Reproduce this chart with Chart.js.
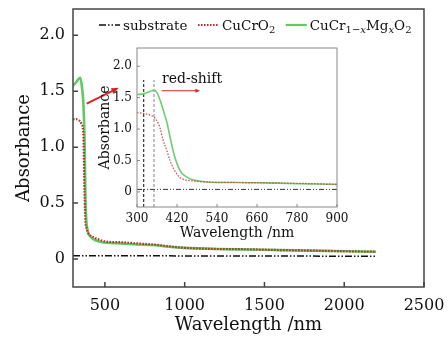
<!DOCTYPE html>
<html>
<head>
<meta charset="utf-8">
<script src="https://cdn.jsdelivr.net/npm/chart.js@4.4.1/dist/chart.umd.min.js"></script>
<style>
    html, body { margin: 0; padding: 0; background: #fff; overflow: hidden; }
    #wrap { position: relative; width: 448px; height: 340px; overflow: hidden; }
    #mainChart { position: absolute; left: 0; top: 0; }
    #insetChart { position: absolute; left: 90px; top: 40px; }
</style>
</head>
<body>
<div id="wrap">
    <canvas id="mainChart" width="448" height="340"></canvas>
    <canvas id="insetChart" width="260" height="205"></canvas>
</div>
<script>
// ---- main panel data ----
const mainWl = [300, 320, 335, 345, 355, 365, 372, 378, 384, 390, 396, 410, 437, 470, 510, 600, 700, 800, 900, 1000, 1200, 1400, 1600, 1800, 2000, 2200];
const mainMg = [1.55, 1.58, 1.61, 1.62, 1.55, 1.39, 1.10, 0.55, 0.33, 0.27, 0.23, 0.20, 0.17, 0.155, 0.145, 0.14, 0.13, 0.125, 0.11, 0.10, 0.09, 0.085, 0.08, 0.075, 0.07, 0.065];
const mainCuCrO2 = [1.25, 1.25, 1.24, 1.23, 1.20, 1.12, 0.60, 0.33, 0.28, 0.25, 0.23, 0.21, 0.19, 0.17, 0.155, 0.15, 0.14, 0.13, 0.115, 0.10, 0.09, 0.087, 0.08, 0.075, 0.07, 0.065];
const subWl = [300, 1000, 2200];
const mainSubstrate = [0.03, 0.028, 0.025];

const mainXTicks = [500, 1000, 1500, 2000, 2500];
const mainXLabels = ['500', '1000', '1500', '2000', '2500'];
const mainYTicks = [0, 0.5, 1.0, 1.5, 2.0];
const mainYLabels = ['0', '0.5', '1.0', '1.5', '2.0'];

// ---- inset data (300-900 nm) ----
const insetWlMg = [300, 320, 340, 351, 360, 370, 380, 390, 400, 410, 420, 430, 440, 455, 470, 490, 520, 560, 600, 660, 720, 780, 840, 900];
const insetMg = [1.55, 1.56, 1.60, 1.62, 1.58, 1.45, 1.28, 1.10, 0.85, 0.62, 0.45, 0.33, 0.27, 0.22, 0.19, 0.17, 0.155, 0.15, 0.15, 0.145, 0.14, 0.13, 0.125, 0.12];
const insetWlCr = [300, 320, 340, 351, 363, 370, 378, 390, 399, 410, 420, 429, 440, 460, 489, 520, 600, 700, 800, 900];
const insetCuCrO2 = [1.26, 1.25, 1.22, 1.19, 1.10, 1.00, 0.83, 0.65, 0.50, 0.37, 0.28, 0.23, 0.20, 0.18, 0.165, 0.155, 0.15, 0.145, 0.135, 0.12];
const insetSubWl = [300, 900];
const insetSubstrate = [0.04, 0.04];

const insetXTicks = [300, 420, 540, 660, 780, 900];
const insetXLabels = ['300', '420', '540', '660', '780', '900'];
const insetYTicks = [0, 0.5, 1.0, 1.5, 2.0];
const insetYLabels = ['0', '0.5', '1.0', '1.5', '2.0'];

// band-edge markers in the inset
const edgeLines = [320, 351];

const seriesNames = ['substrate', 'CuCrO2', 'CuCr1-xMgxO2'];
const legendParts = [
    [['substrate']],
    [['CuCrO'], ['2', 'sub']],
    [['CuCr'], ['1\u2212', 'sub'], ['x', 'subi'], ['Mg'], ['x', 'subi'], ['O'], ['2', 'sub']]
];

const SERIF = "'DejaVu Serif', serif";
const GREEN = '#62c862';
const RED = '#b82a2a';
const ARROW = '#d42626';

function pts(xs, ys) {
    return xs.map((x, i) => ({ x: x, y: ys[i] }));
}

// box round the plot and short inward tick marks
function framePlugin(color, width, tick) {
    return {
        id: 'frame',
        afterDatasetsDraw(chart) {
            const { ctx, chartArea: a, scales: { x, y } } = chart;
            ctx.save();
            ctx.strokeStyle = color;
            ctx.lineWidth = width;
            ctx.strokeRect(a.left, a.top, a.right - a.left, a.bottom - a.top);
            ctx.beginPath();
            x.ticks.forEach(t => {
                const px = x.getPixelForValue(t.value);
                ctx.moveTo(px, a.bottom);
                ctx.lineTo(px, a.bottom - tick);
            });
            y.ticks.forEach(t => {
                const py = y.getPixelForValue(t.value);
                ctx.moveTo(a.left, py);
                ctx.lineTo(a.left + tick, py);
            });
            ctx.stroke();
            ctx.restore();
        }
    };
}

function drawArrow(ctx, x0, y0, x1, y1, head, color, width) {
    const ang = Math.atan2(y1 - y0, x1 - x0);
    ctx.save();
    ctx.strokeStyle = color;
    ctx.fillStyle = color;
    ctx.lineWidth = width;
    ctx.beginPath();
    ctx.moveTo(x0, y0);
    ctx.lineTo(x1 - Math.cos(ang) * head * 0.8, y1 - Math.sin(ang) * head * 0.8);
    ctx.stroke();
    ctx.beginPath();
    ctx.moveTo(x1, y1);
    ctx.lineTo(x1 - head * Math.cos(ang - 0.4), y1 - head * Math.sin(ang - 0.4));
    ctx.lineTo(x1 - head * Math.cos(ang + 0.4), y1 - head * Math.sin(ang + 0.4));
    ctx.closePath();
    ctx.fill();
    ctx.restore();
}

// legend drawn inside the main plot, with real subscripts
const legendPlugin = {
    id: 'richLegend',
    afterDraw(chart) {
        const { ctx, chartArea: a } = chart;
        const sets = chart.data.datasets;
        let x = a.left + 26;
        const y = a.top + 16;
        ctx.save();
        ctx.textBaseline = 'alphabetic';
        ctx.fillStyle = '#111';
        legendParts.forEach((parts, i) => {
            const ds = sets[i];
            ctx.save();
            ctx.strokeStyle = ds.borderColor;
            ctx.lineWidth = Math.min(ds.borderWidth, 2.2);
            ctx.setLineDash(ds.borderDash || []);
            ctx.beginPath();
            ctx.moveTo(x, y);
            ctx.lineTo(x + 21, y);
            ctx.stroke();
            ctx.restore();
            x += 24;
            parts.forEach(([txt, kind]) => {
                if (kind === 'sub' || kind === 'subi') {
                    ctx.font = (kind === 'subi' ? 'italic ' : '') + '10px ' + SERIF;
                    ctx.fillText(txt, x, y + 8);
                } else {
                    ctx.font = '13.5px ' + SERIF;
                    ctx.fillText(txt, x, y + 5);
                }
                x += ctx.measureText(txt).width;
            });
            x += 10.5;
        });
        ctx.restore();
    }
};

const mainArrow = { from: [386, 1.39], to: [587, 1.53] };

const mainNotes = {
    id: 'mainNotes',
    afterDatasetsDraw(chart) {
        const { ctx, scales: { x, y } } = chart;
        drawArrow(ctx,
            x.getPixelForValue(mainArrow.from[0]), y.getPixelForValue(mainArrow.from[1]),
            x.getPixelForValue(mainArrow.to[0]), y.getPixelForValue(mainArrow.to[1]),
            8, ARROW, 2);
    }
};

const shiftArrow = { from: [374, 1.61], to: [489, 1.61] };
const shiftText = { x: 375, y: 1.79, text: 'red-shift' };

const insetNotes = {
    id: 'insetNotes',
    beforeDatasetsDraw(chart) {
        const { ctx, chartArea: a, scales: { x, y } } = chart;
        ctx.save();
        ctx.setLineDash([3, 2]);
        ctx.lineWidth = 1.2;
        edgeLines.forEach((wl, i) => {
            ctx.strokeStyle = i === 0 ? '#333' : '#999';
            const px = x.getPixelForValue(wl);
            ctx.beginPath();
            ctx.moveTo(px, a.bottom);
            ctx.lineTo(px, y.getPixelForValue(1.78));
            ctx.stroke();
        });
        ctx.restore();
    },
    afterDatasetsDraw(chart) {
        const { ctx, scales: { x, y } } = chart;
        drawArrow(ctx,
            x.getPixelForValue(shiftArrow.from[0]), y.getPixelForValue(shiftArrow.from[1]),
            x.getPixelForValue(shiftArrow.to[0]), y.getPixelForValue(shiftArrow.to[1]),
            5, ARROW, 1.2);
        ctx.save();
        ctx.font = '14px ' + SERIF;
        ctx.fillStyle = '#111';
        ctx.textBaseline = 'middle';
        ctx.fillText(shiftText.text, x.getPixelForValue(shiftText.x), y.getPixelForValue(shiftText.y));
        ctx.restore();
    }
};

function axisSet(o) {
    return {
        x: {
            type: 'linear', min: o.xMin, max: o.xMax,
            afterBuildTicks: s => { s.ticks = o.xTicks.map(v => ({ value: v })); },
            // fixed axis size, and no extra room for the end labels
            afterFit: s => { s.height = o.xHeight; s.paddingLeft = 0; s.paddingRight = 0; },
            grid: { display: false, drawTicks: false },
            border: { display: false },
            ticks: {
                autoSkip: false, maxRotation: 0, padding: o.xPad, color: '#111',
                font: { family: SERIF, size: o.tickSize },
                callback: (v, i) => o.xLabels[i]
            },
            title: {
                display: true, text: 'Wavelength /nm', color: '#111',
                font: { family: SERIF, size: o.titleSize },
                padding: { top: 0, bottom: o.xTitlePad }
            }
        },
        y: {
            type: 'linear', min: o.yMin, max: o.yMax,
            afterBuildTicks: s => { s.ticks = o.yTicks.map(v => ({ value: v })); },
            afterFit: s => { s.width = o.yWidth; s.paddingTop = 0; s.paddingBottom = 0; },
            grid: { display: false, drawTicks: false },
            border: { display: false },
            ticks: {
                autoSkip: false, padding: o.yPad, color: '#111',
                font: { family: SERIF, size: o.tickSize },
                callback: (v, i) => o.yLabels[i]
            },
            title: {
                display: true, text: 'Absorbance', color: '#111',
                font: { family: SERIF, size: o.titleSize },
                padding: { top: o.yTitlePad, bottom: 0 }
            }
        }
    };
}

new Chart(document.getElementById('mainChart'), {
    type: 'line',
    data: {
        datasets: [{
            label: seriesNames[0],
            data: pts(subWl, mainSubstrate),
            borderColor: '#111',
            borderWidth: 1.5,
            borderDash: [7, 2, 1.5, 2, 1.5, 2]
        }, {
            label: seriesNames[1],
            data: pts(mainWl, mainCuCrO2),
            borderColor: RED,
            borderWidth: 2.2,
            borderDash: [1.5, 1.5],
            cubicInterpolationMode: 'monotone'
        }, {
            label: seriesNames[2],
            data: pts(mainWl, mainMg),
            borderColor: GREEN,
            borderWidth: 2.6,
            cubicInterpolationMode: 'monotone'
        }]
    },
    options: {
        responsive: false,
        animation: false,
        devicePixelRatio: 1,
        elements: { point: { radius: 0 } },
        layout: { padding: { left: 0, top: 9, right: 24, bottom: 0 } },
        plugins: { legend: { display: false }, tooltip: { enabled: false } },
        scales: axisSet({
            xMin: 300, xMax: 2500, xTicks: mainXTicks, xLabels: mainXLabels,
            yMin: -0.25, yMax: 2.235, yTicks: mainYTicks, yLabels: mainYLabels,
            xHeight: 53, yWidth: 73, xPad: 9, yPad: 8, tickSize: 16, titleSize: 18,
            xTitlePad: 4, yTitlePad: 14
        })
    },
    plugins: [framePlugin('#444', 1.5, 5), mainNotes, legendPlugin]
});

new Chart(document.getElementById('insetChart'), {
    type: 'line',
    data: {
        datasets: [{
            label: seriesNames[0],
            data: pts(insetSubWl, insetSubstrate),
            borderColor: '#333',
            borderWidth: 1,
            borderDash: [5, 2, 1, 2, 1, 2]
        }, {
            label: seriesNames[1],
            data: pts(insetWlCr, insetCuCrO2),
            borderColor: '#c84848',
            borderWidth: 1.2,
            borderDash: [1.5, 1.5],
            cubicInterpolationMode: 'monotone'
        }, {
            label: seriesNames[2],
            data: pts(insetWlMg, insetMg),
            borderColor: '#70cc70',
            borderWidth: 1.6,
            cubicInterpolationMode: 'monotone'
        }]
    },
    options: {
        responsive: false,
        animation: false,
        devicePixelRatio: 1,
        elements: { point: { radius: 0 } },
        layout: { padding: { left: 0, top: 8, right: 13, bottom: 0 } },
        plugins: { legend: { display: false }, tooltip: { enabled: false } },
        scales: axisSet({
            xMin: 300, xMax: 900, xTicks: insetXTicks, xLabels: insetXLabels,
            yMin: -0.24, yMax: 2.29, yTicks: insetYTicks, yLabels: insetYLabels,
            xHeight: 38, yWidth: 47, xPad: 5, yPad: 5, tickSize: 12, titleSize: 14,
            xTitlePad: 3, yTitlePad: 7
        })
    },
    plugins: [{
        id: 'whiteArea',
        beforeDraw(chart) {
            const { ctx, chartArea: a } = chart;
            ctx.save();
            ctx.fillStyle = '#fff';
            ctx.fillRect(a.left, a.top, a.right - a.left, a.bottom - a.top);
            ctx.restore();
        }
    }, framePlugin('#888', 1, 3), insetNotes]
});
</script>
</body>
</html>
